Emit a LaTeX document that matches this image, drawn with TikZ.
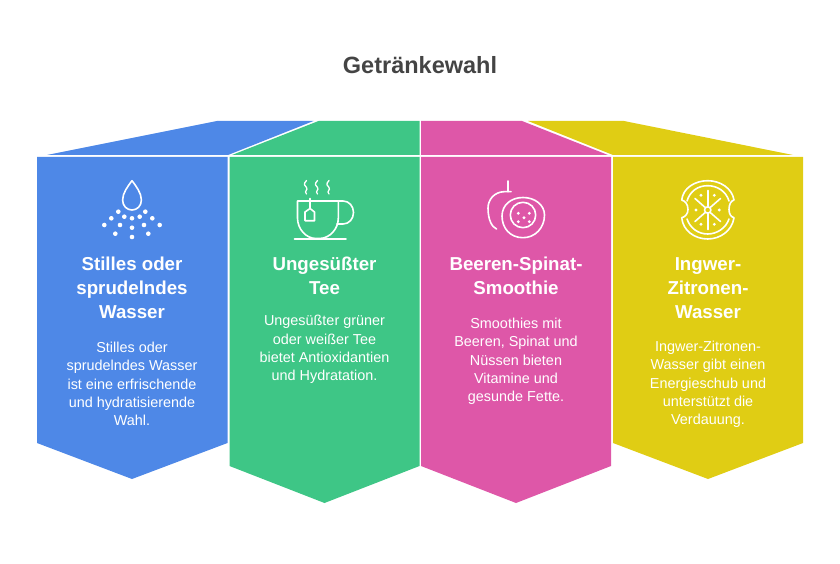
\documentclass[tikz,border=0pt]{standalone}
\usepackage{fontspec}
\setmainfont{Liberation Sans}
\definecolor{cblue}{HTML}{4E88E7}
\definecolor{cgreen}{HTML}{3EC686}
\definecolor{cpink}{HTML}{DE57A8}
\definecolor{cyellow}{HTML}{E0CD14}
\definecolor{ctitle}{HTML}{444444}
\tikzset{
  headtxt/.style={text=white,align=center,inner sep=0pt,font=\fontsize{18.7}{24}\selectfont\bfseries},
  bodytxt/.style={text=white,align=center,inner sep=0pt,font=\fontsize{14.4}{18.3}\selectfont},
  titletxt/.style={text=ctitle,inner sep=0pt,font=\fontsize{23.5}{28}\selectfont\bfseries},
  icon/.style={draw=white,line width=1.6pt,line cap=round,line join=round},
  icondot/.style={fill=white,draw=none}
}
\begin{document}
\begin{tikzpicture}[x=1pt,y=-1pt]
\useasboundingbox (0,0) rectangle (840,564);
% roofs
\fill[cblue] (47,155) -- (217,121) -- (313.5,121) -- (228,155) -- cycle;
\fill[cgreen] (232,155) -- (318.5,121) -- (419.5,121) -- (419.5,155) -- cycle;
\fill[cpink] (421,121) -- (522,121) -- (608,155) -- (421,155) -- cycle;
\fill[cyellow] (528,121) -- (624,121) -- (793,155) -- (613,155) -- cycle;
% panels
\fill[cblue] (37,157) -- (227.5,157) -- (227.5,443) -- (132,479) -- (37,443) -- cycle;
\fill[cgreen] (229.5,157) -- (419.5,157) -- (419.5,466) -- (324.5,503) -- (229.5,466) -- cycle;
\fill[cpink] (421,157) -- (611,157) -- (611,466) -- (516,503) -- (421,466) -- cycle;
\fill[cyellow] (613,157) -- (803,157) -- (803,443) -- (708,479) -- (613,443) -- cycle;
% texts
\node[titletxt] (title) at (420,65) {Getränkewahl};
\node[headtxt] (h1) at (132,288) {Stilles oder\\sprudelndes\\Wasser};
\node[headtxt] (h2) at (324.5,276) {Ungesüßter\\Tee};
\node[headtxt] (h3) at (516,276) {Beeren-Spinat-\\Smoothie};
\node[headtxt] (h4) at (708,288) {Ingwer-\\Zitronen-\\Wasser};
\node[bodytxt] (b1) at (132,384) {Stilles oder\\sprudelndes Wasser\\ist eine erfrischende\\und hydratisierende\\Wahl.};
\node[bodytxt] (b2) at (324.5,349.5) {Ungesüßter grüner\\oder weißer Tee\\bietet Antioxidantien\\und Hydratation.};
\node[bodytxt] (b3) at (516,361.5) {Smoothies mit\\Beeren, Spinat und\\Nüssen bieten\\Vitamine und\\gesunde Fette.};
\node[bodytxt] (b4) at (708,384.5) {Ingwer-Zitronen-\\Wasser gibt einen\\Energieschub und\\unterstützt die\\Verdauung.};
% water icon
\draw[icon] (132,180.7) .. controls (128,186) and (122.6,193) .. (122.6,200) .. controls (122.6,206) and (127,210) .. (132,210) .. controls (137,210) and (141.4,206) .. (141.4,200) .. controls (141.4,193) and (136,186) .. cycle;
\foreach \p in {(118.3,211.7),(145.3,211.7),(111.3,218.3),(124.3,216.7),(132,218.3),(139.7,216.7),(152.3,218.3),(104.3,225),(120,225),(132,227.7),(144,225),(159.7,225),(115.3,233.7),(148.3,233.7),(132,237)}
  \fill[icondot] \p circle (2.3);
% tea icon
\begin{scope}[icon]
\draw (297.5,201) -- (338.3,201) -- (338.3,218) .. controls (338.3,229) and (330,238) .. (320,238.5) -- (316,238.5) .. controls (306,238.5) and (297.5,229) .. (297.5,218) -- cycle;
\draw (338.3,201) -- (343,201) .. controls (349,201) and (353.5,206) .. (353.5,212.5) .. controls (353.5,219) and (349,224) .. (343,224) -- (337,224);
\draw (294.5,238.7) -- (346,238.7);
\draw (310,198.5) -- (310,208.5) -- (314.5,212) -- (314.5,220.7) -- (305,220.7) -- (305,212) -- (310,208.5);
\foreach \x in {306.5,317.5,329}{
  \draw[line width=1.3pt] (\x,180.5) .. controls (\x-3.5,184) and (\x-2,186) .. (\x,187.5) .. controls (\x+2,190) and (\x-3,191) .. (\x,194);
}
\end{scope}
% smoothie icon
\begin{scope}[icon]
\draw (507.7,181) -- (507.7,191.7);
\draw (511,191.7) -- (504,191.7) .. controls (494,192) and (488,200) .. (488,208) .. controls (488,220) and (492,227) .. (496.5,229);
\draw (523,197.5) .. controls (535,197.5) and (544.5,205) .. (544.5,215) .. controls (544.5,228) and (535,237.7) .. (523,237.7) .. controls (510,237.7) and (502,228) .. (502,216) .. controls (502,205) and (511,197.5) .. (523,197.5) -- cycle;
\draw (523,215) circle (12.7);
\end{scope}
\foreach \p in {(518.3,213.3),(529.3,213.3),(524,217.7),(518.3,221.7),(529.3,221.7)}
  \fill[icondot] \p circle (1.6);
% lemon icon
\begin{scope}[icon]
\draw (681.7,200) .. controls (683,188) and (695,180.7) .. (707.7,180.7) .. controls (720,180.7) and (732,188) .. (734,200) .. controls (731,201) and (729,204) .. (729,209.5) .. controls (729,214) and (731,217) .. (734,217.7) .. controls (732,231) and (720,239) .. (707.7,239) .. controls (695,239) and (683,231) .. (681.7,217.7) .. controls (685,217) and (688,214) .. (688,209.5) .. controls (688,204) and (685,201) .. (681.7,200) -- cycle;
\draw (687,201) .. controls (690,191) and (698,185.7) .. (707.7,185.7) .. controls (717,185.7) and (726,191) .. (729,201);
\draw (687,219) .. controls (690,228) and (698,234) .. (707.7,234) .. controls (717,234) and (726,228) .. (729,219);
\draw (707.7,210) circle (3.2);
\draw (707.7,190.5) -- (707.7,206.8);
\draw (707.7,213.2) -- (707.7,229.5);
\draw (695,198.5) -- (705.4,207.7);
\draw (720.5,198.5) -- (710,207.7);
\draw (695,221.5) -- (705.4,212.3);
\draw (720.5,221.5) -- (710,212.3);
\end{scope}
\foreach \p in {(701,195.3),(714.3,195.3),(696,210),(719.3,210),(701,224.3),(714.3,224.3)}
  \fill[icondot] \p circle (1.6);
\end{tikzpicture}
\end{document}
